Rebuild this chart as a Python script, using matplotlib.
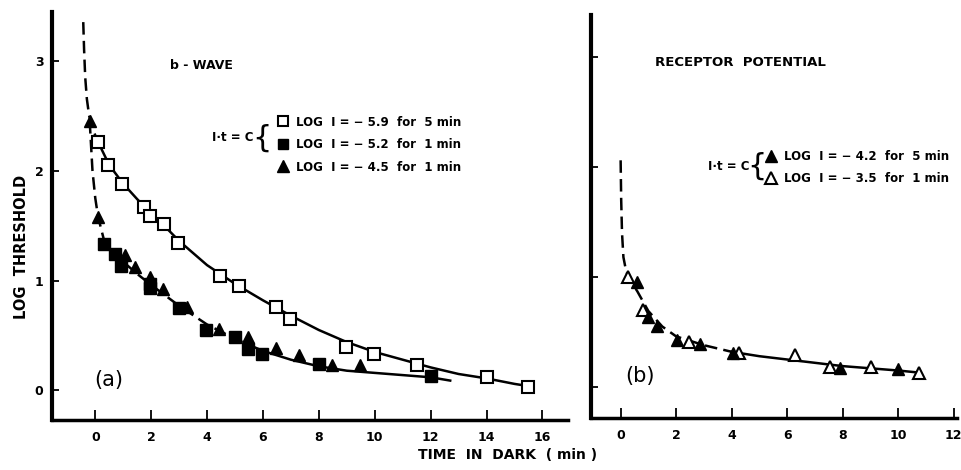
import matplotlib.pyplot as plt
from matplotlib.lines import Line2D

# (a) b-wave thresholds
open_sq_t = [0.1, 0.45, 0.97, 1.73, 1.95, 2.47, 2.96, 4.46, 5.15, 6.45, 6.98, 8.98, 9.97, 11.5, 14.0, 15.5]
open_sq_y = [2.26, 2.05, 1.88, 1.67, 1.59, 1.51, 1.34, 1.04, 0.95, 0.76, 0.65, 0.40, 0.33, 0.23, 0.12, 0.03]

fill_sq_t = [0.3, 0.7, 0.92, 1.96, 1.96, 3.0, 3.95, 5.0, 5.48, 5.98, 8.0, 12.0]
fill_sq_y = [1.33, 1.24, 1.13, 0.97, 0.93, 0.75, 0.55, 0.49, 0.38, 0.33, 0.24, 0.13]

fill_tri_t = [-0.18, 0.1, 1.07, 1.43, 1.96, 2.43, 3.27, 4.43, 5.47, 6.46, 7.3, 8.47, 9.46]
fill_tri_y = [2.45, 1.58, 1.23, 1.12, 1.03, 0.92, 0.76, 0.56, 0.49, 0.39, 0.32, 0.23, 0.23]

# fitted curves for (a)
top_dash_t = [-0.43, -0.4, -0.36, -0.3, -0.22, -0.12, 0.0, 0.1]
top_dash_y = [3.35, 3.1, 2.85, 2.65, 2.5, 2.4, 2.32, 2.26]
upper_t = [0.1, 0.5, 1.0, 1.5, 2.0, 2.5, 3.0, 4.0, 5.0, 6.0, 7.0, 8.0, 9.0, 10.0, 11.0, 12.0, 13.0, 14.0, 15.0, 15.5]
upper_y = [2.26, 2.05, 1.88, 1.74, 1.61, 1.49, 1.36, 1.14, 0.97, 0.82, 0.68, 0.55, 0.44, 0.35, 0.28, 0.21, 0.15, 0.11, 0.06, 0.04]
lower_dash_t = [-0.2, -0.1, 0.0, 0.1, 0.3, 0.6, 1.0, 1.5, 2.0, 3.0, 4.0, 5.0, 6.0]
lower_dash_y = [2.45, 2.0, 1.75, 1.58, 1.38, 1.26, 1.17, 1.06, 0.96, 0.77, 0.60, 0.47, 0.36]
lower_t = [6.0, 7.0, 8.0, 9.0, 10.0, 11.0, 12.0, 12.7]
lower_y = [0.36, 0.28, 0.22, 0.18, 0.16, 0.14, 0.12, 0.09]

# (b) receptor potential thresholds
rp_fill_t = [0.58, 0.97, 1.3, 2.02, 2.85, 4.04, 7.9, 10.0]
rp_fill_y = [0.95, 0.64, 0.55, 0.43, 0.39, 0.31, 0.17, 0.16]
rp_open_t = [0.25, 0.8, 2.45, 4.26, 6.28, 7.55, 9.03, 10.76]
rp_open_y = [1.0, 0.70, 0.41, 0.31, 0.29, 0.18, 0.18, 0.13]

rp_dash_t = [0.0, 0.02, 0.05, 0.1, 0.2, 0.35, 0.6, 1.0, 1.5, 2.0, 3.0, 4.0]
rp_dash_y = [2.06, 1.7, 1.4, 1.18, 1.05, 0.97, 0.87, 0.69, 0.55, 0.46, 0.38, 0.32]
rp_t = [4.0, 5.0, 6.0, 7.0, 8.0, 9.0, 10.0, 10.8]
rp_y = [0.32, 0.28, 0.25, 0.22, 0.19, 0.17, 0.15, 0.13]

labels_a = ["LOG  I = − 5.9  for  5 min", "LOG  I = − 5.2  for  1 min", "LOG  I = − 4.5  for  1 min"]
labels_b = ["LOG  I = − 4.2  for  5 min", "LOG  I = − 3.5  for  1 min"]

plt.rcParams['font.family'] = 'DejaVu Sans'
plt.rcParams['font.weight'] = 'bold'

fig = plt.figure(figsize=(9.62, 4.70), dpi=100)
ax_a = fig.add_axes([0.054, 0.106, 0.536, 0.868])
ax_b = fig.add_axes([0.614, 0.111, 0.381, 0.857])

lw = 1.8
dash = (5, 2.5)
ms = 8

# panel (a) curves
ax_a.plot(top_dash_t, top_dash_y, color='black', lw=lw, ls='--', dashes=dash)
ax_a.plot(upper_t, upper_y, color='black', lw=lw)
ax_a.plot(lower_dash_t, lower_dash_y, color='black', lw=lw, ls='--', dashes=dash)
ax_a.plot(lower_t, lower_y, color='black', lw=lw)

# panel (a) points
ax_a.plot(open_sq_t, open_sq_y, 's', ms=ms, mfc='white', mec='black', mew=1.5)
ax_a.plot(fill_sq_t, fill_sq_y, 's', ms=ms, mfc='black', mec='black')
ax_a.plot(fill_tri_t, fill_tri_y, '^', ms=ms + 1, mfc='black', mec='black')

# panel (b)
ax_b.plot(rp_dash_t, rp_dash_y, color='black', lw=lw, ls='--', dashes=dash)
ax_b.plot(rp_t, rp_y, color='black', lw=lw)
ax_b.plot(rp_open_t, rp_open_y, '^', ms=ms + 1, mfc='white', mec='black', mew=1.5)
ax_b.plot(rp_fill_t, rp_fill_y, '^', ms=ms + 1, mfc='black', mec='black')

ax_a.set_xlim(-1.55, 16.9)
ax_a.set_ylim(-0.27, 3.44)
ax_b.set_xlim(-1.08, 12.13)
ax_b.set_ylim(-0.28, 3.38)

for ax in (ax_a, ax_b):
    for side in ('top', 'right'):
        ax.spines[side].set_visible(False)
    ax.spines['left'].set_linewidth(3)
    ax.spines['bottom'].set_linewidth(2.5)
    ax.tick_params(axis='both', direction='in', width=1.3, labelsize=9, pad=8)
    ax.tick_params(axis='x', length=7)
    ax.tick_params(axis='y', length=5)
    ax.set_facecolor('none')

ax_a.set_xticks(range(0, 17, 2))
ax_a.set_yticks([0, 1, 2, 3])
ax_b.set_xticks(range(0, 13, 2))
ax_b.set_yticks([0, 1, 2, 3])
ax_b.set_yticklabels([])
ax_a.tick_params(axis='y', pad=6)

# panel titles and letters
ax_a.text(0.229, 0.87, "b - WAVE", transform=ax_a.transAxes, fontsize=9, va='center')
ax_b.text(0.175, 0.881, "RECEPTOR  POTENTIAL", transform=ax_b.transAxes, fontsize=9.5, va='center')
ax_a.text(0.083, 0.098, "(a)", transform=ax_a.transAxes, fontsize=15, fontweight='normal', va='center')
ax_b.text(0.093, 0.104, "(b)", transform=ax_b.transAxes, fontsize=15, fontweight='normal', va='center')

# legends
handles_a = [
    Line2D([], [], ls='none', marker='s', ms=7, mfc='white', mec='black', mew=1.5),
    Line2D([], [], ls='none', marker='s', ms=7, mfc='black', mec='black'),
    Line2D([], [], ls='none', marker='^', ms=8, mfc='black', mec='black'),
]
fig.legend(handles_a, labels_a, loc='upper left', bbox_to_anchor=(0.288, 0.754),
           frameon=False, fontsize=8.5, handlelength=1.0, handletextpad=0.6,
           labelspacing=0.8, borderpad=0, borderaxespad=0)
fig.text(0.263, 0.707, "I·t = C", fontsize=8.5, ha='right', va='center')
fig.text(0.2725, 0.707, "{", fontsize=22, fontweight='normal', ha='center', va='center')

handles_b = [
    Line2D([], [], ls='none', marker='^', ms=8, mfc='black', mec='black'),
    Line2D([], [], ls='none', marker='^', ms=8, mfc='white', mec='black', mew=1.5),
]
fig.legend(handles_b, labels_b, loc='upper left', bbox_to_anchor=(0.7955, 0.68),
           frameon=False, fontsize=8.5, handlelength=1.0, handletextpad=0.6,
           labelspacing=0.75, borderpad=0, borderaxespad=0)
fig.text(0.779, 0.646, "I·t = C", fontsize=8.5, ha='right', va='center')
fig.text(0.7865, 0.646, "{", fontsize=22, fontweight='normal', ha='center', va='center')

# shared axis labels
fig.text(0.528, 0.032, "TIME  IN  DARK  ( min )", fontsize=10, ha='center', va='center')
fig.text(0.022, 0.474, "LOG  THRESHOLD", fontsize=10.5, rotation=90, ha='center', va='center')

fig.savefig("out.png", dpi=100)
